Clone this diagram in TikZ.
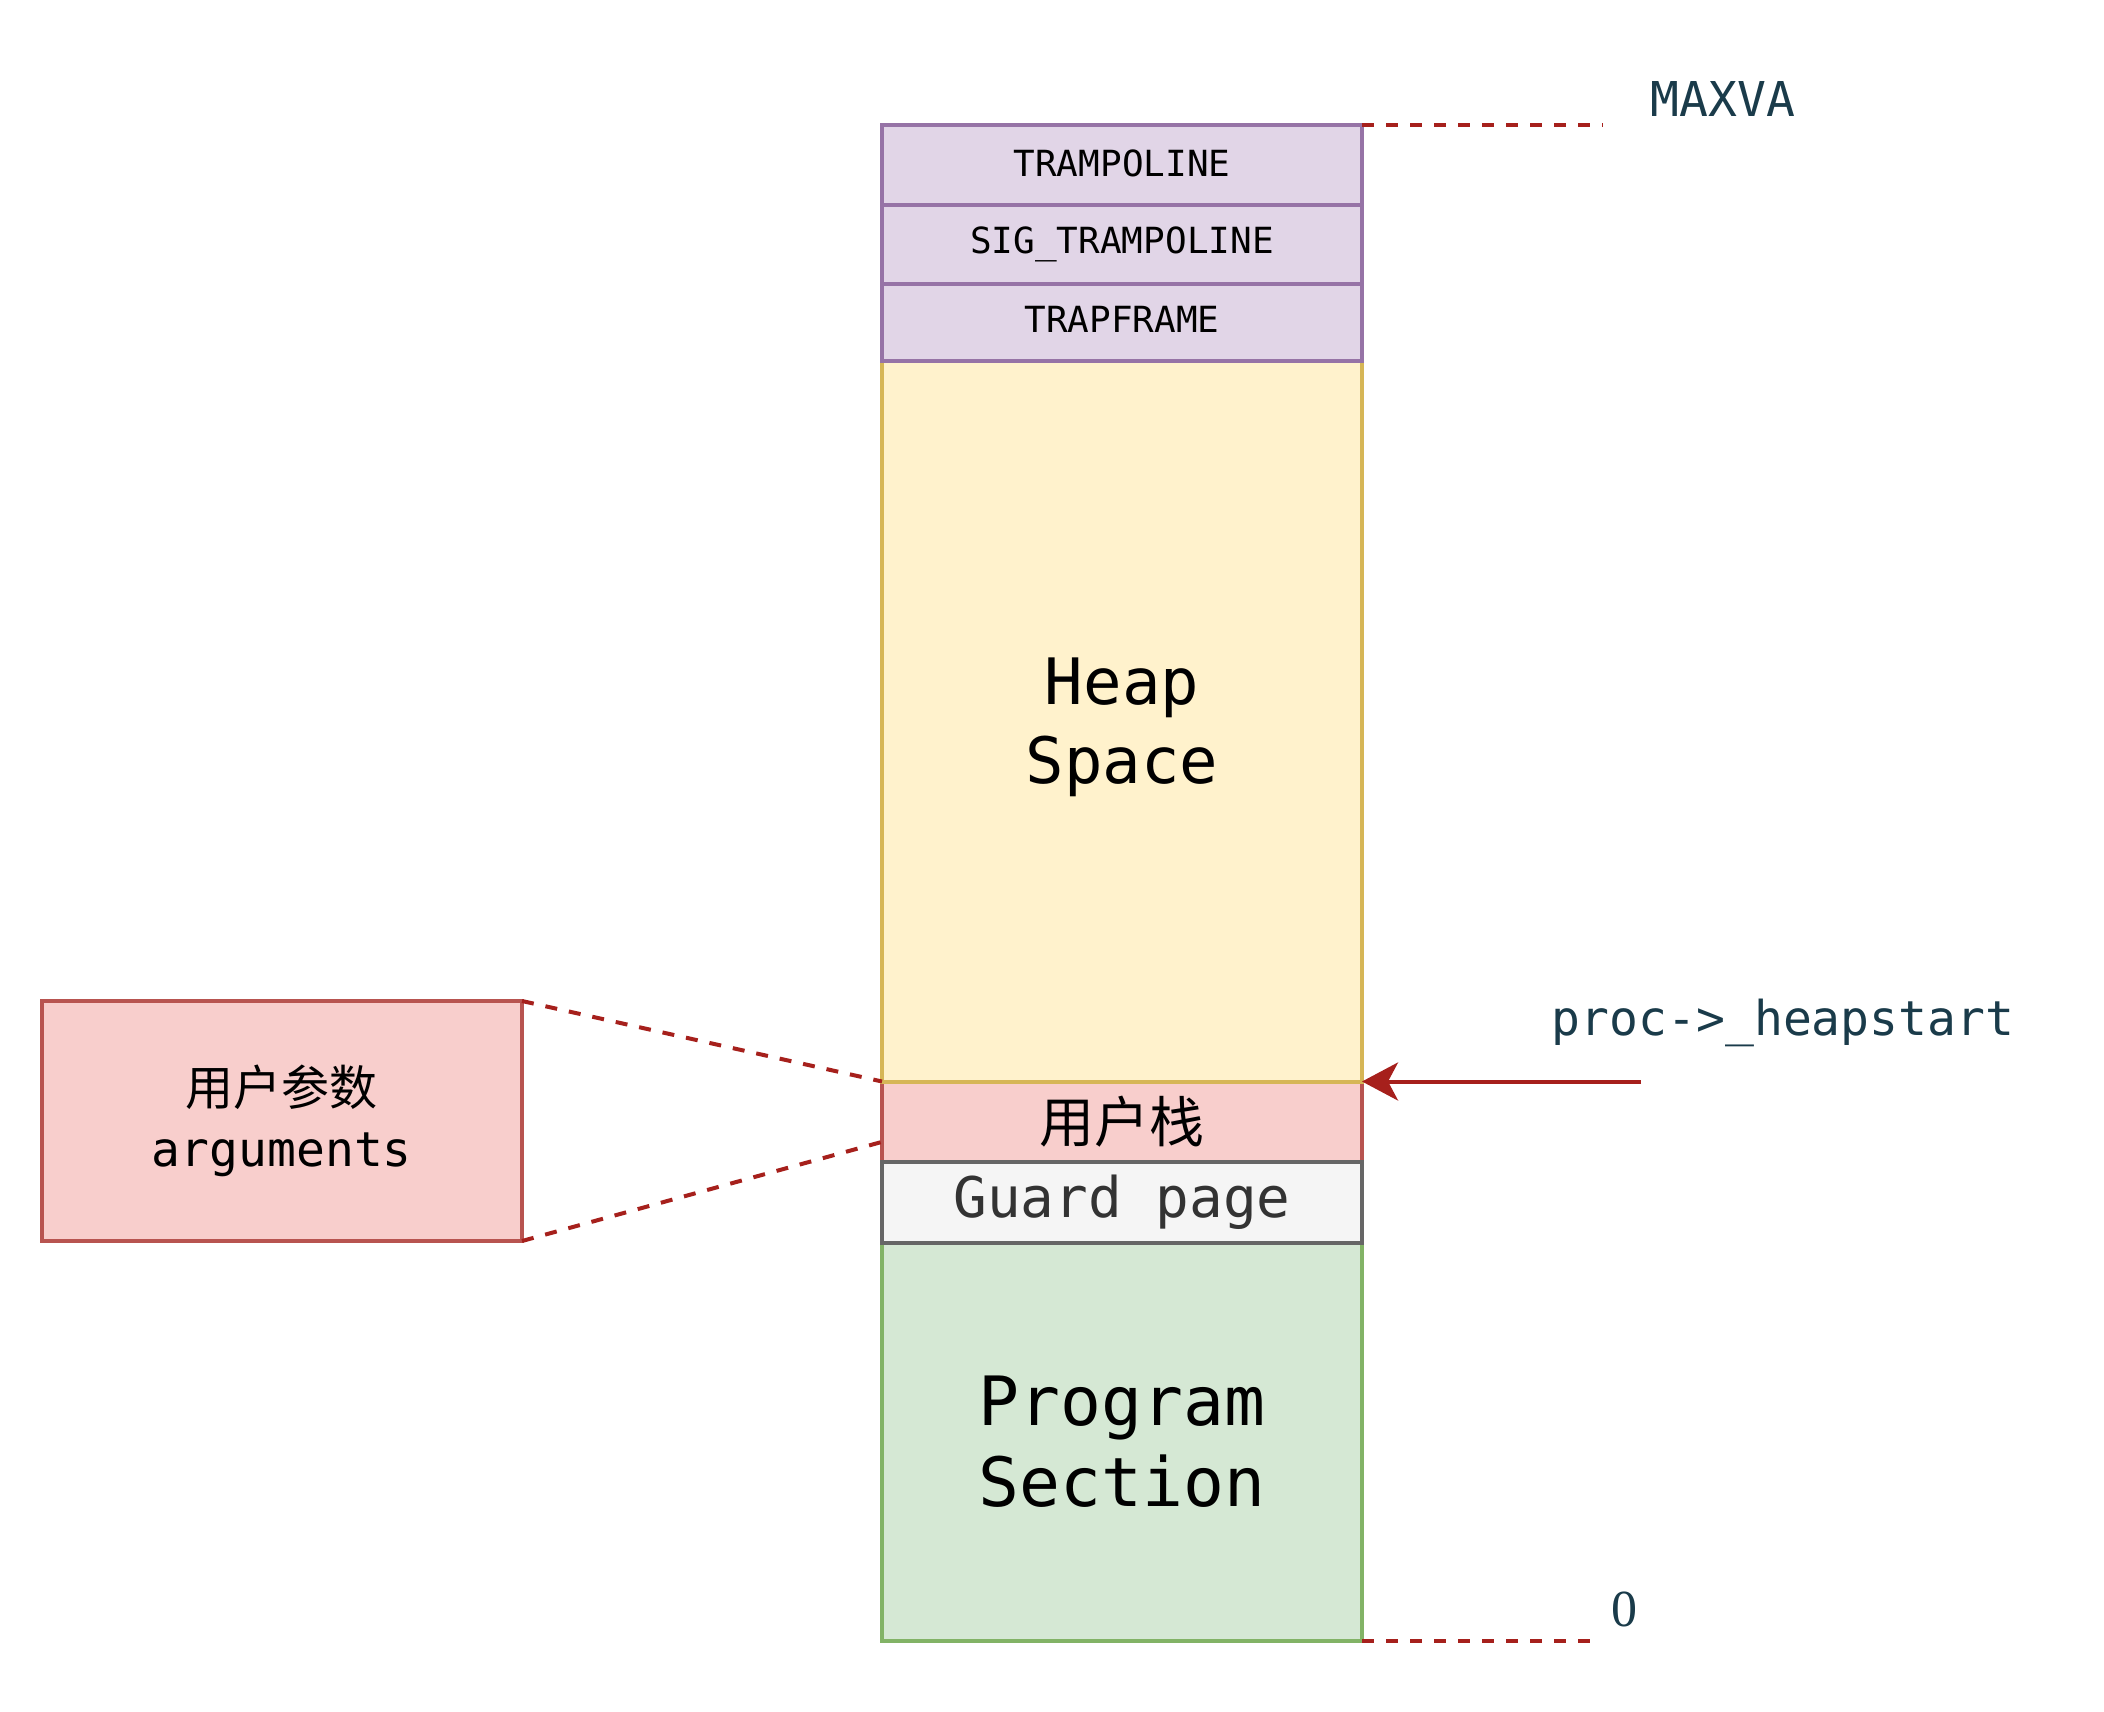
\documentclass[tikz,border=0pt]{standalone}
\usepackage{fontspec}
\setmonofont{DejaVu Sans Mono}
\newfontfamily\cjk{Noto Sans CJK SC}
\newfontfamily\numfont{Liberation Serif}
\usetikzlibrary{positioning,calc,arrows.meta}
\definecolor{purplefill}{HTML}{E1D5E7}
\definecolor{purpleline}{HTML}{9673A6}
\definecolor{yellowfill}{HTML}{FFF2CC}
\definecolor{yellowline}{HTML}{D6B656}
\definecolor{redfill}{HTML}{F8CECC}
\definecolor{redline}{HTML}{B85450}
\definecolor{grayfill}{HTML}{F5F5F5}
\definecolor{grayline}{HTML}{666666}
\definecolor{graytext}{HTML}{333333}
\definecolor{greenfill}{HTML}{D5E8D4}
\definecolor{greenline}{HTML}{82B366}
\definecolor{markred}{HTML}{A6201C}
\definecolor{labelteal}{HTML}{1A3B4A}
\newcommand\shiftdown[2]{\raisebox{-#1}[\height][\depth]{#2}}
\begin{document}
\begin{tikzpicture}[x=1pt,y=-1pt,line width=4pt,
 >={Stealth[length=36pt,width=38pt,inset=10pt]},
 seg/.style={draw,outer sep=0pt,inner sep=0pt,anchor=north west,
  minimum width=480pt,align=center},
 purpleseg/.style={seg,fill=purplefill,draw=purpleline,
  font=\ttfamily\fontsize{36}{44}\selectfont},
 dashline/.style={draw=markred,dash pattern=on 12pt off 12pt},
 lbl/.style={text=labelteal,font=\ttfamily\fontsize{48}{58}\selectfont}]
\useasboundingbox (0,0) rectangle (2104,1712);
\node[seg,fill=greenfill,draw=greenline,minimum height=398.5pt,
 font=\ttfamily\fontsize{68}{81}\selectfont] (prog) at (882,1242.5)
 {Program\\Section};
\node[seg,fill=redfill,draw=redline,minimum height=80.5pt,
 font=\cjk\fontsize{55}{66}\selectfont] (ustack) at (882,1081.5) {用户栈};
\node[seg,fill=grayfill,draw=grayline,text=graytext,minimum height=80.5pt,
 font=\ttfamily\fontsize{56}{68}\selectfont] (guard) at (882,1162) {Guard page};
\node[seg,fill=yellowfill,draw=yellowline,minimum height=720.5pt,
 font=\ttfamily\fontsize{64}{79}\selectfont] (heap) at (882,361)
 {\shiftdown{6pt}{Heap}\\\shiftdown{6pt}{Space}};
\node[purpleseg,minimum height=76.5pt] (trapframe) at (882,284.5) {\shiftdown{-3pt}{TRAPFRAME}};
\node[purpleseg,minimum height=79.5pt] (sigtramp) at (882,205) {SIG\_TRAMPOLINE};
\node[purpleseg,minimum height=80pt] (tramp) at (882,125) {\shiftdown{-2pt}{TRAMPOLINE}};
\node[seg,fill=redfill,draw=redline,minimum width=480.4pt,minimum height=240pt,
 font=\fontsize{48}{61}\selectfont] (args) at (41.6,1001)
 {{\cjk 用户参数}\\\ttfamily arguments};
\draw[dashline] (args.north east) -- (heap.south west);
\draw[dashline] (args.south east) -- ($(ustack.north west)!.75!(ustack.south west)$);
\coordinate (maxend) at (1603,125);
\draw[dashline] (tramp.north east) -- (maxend);
\node[lbl] (maxva) at (1723,99) {MAXVA};
\coordinate (zeroend) at (1593,1641);
\draw[dashline] (prog.south east) -- (zeroend);
\node[text=labelteal,font=\numfont\fontsize{52}{62}\selectfont] (zero) at (1624,1609) {0};
\coordinate (hsend) at (1641,1081.5);
\draw[->,markred] (hsend) -- (heap.south east);
\node[lbl] (hslabel) at (1783,1023) {proc->\_heapstart};
\end{tikzpicture}
\end{document}
